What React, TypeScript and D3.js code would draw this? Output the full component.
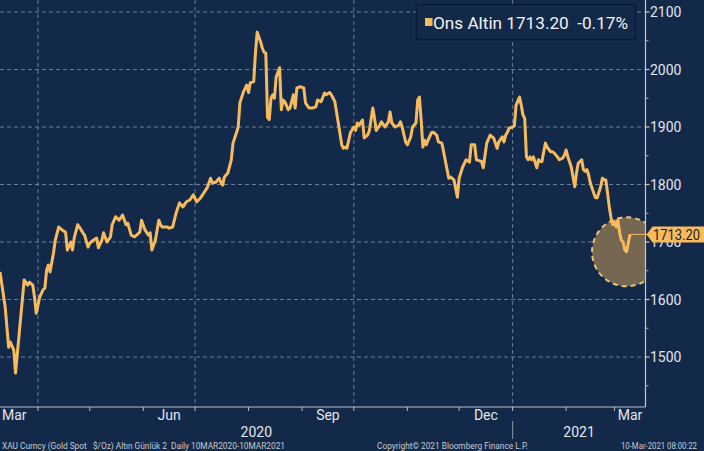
import React from "react";
import * as d3 from "d3";

// ---- data ----
const startDate = new Date(Date.UTC(2020, 2, 10));
const endDate = new Date(Date.UTC(2021, 2, 10));

// days since 10 Mar 2020
const dayOffsets = [
  0, 3, 5, 6, 8, 9, 14, 16, 17, 19, 20, 21, 23, 25, 26, 27, 28, 29, 31, 32, 34, 36, 38, 39, 41, 42, 43, 45, 46, 48,
  49, 51, 52, 54, 56, 57, 59, 60, 62, 64, 65, 67, 69, 71, 73, 74, 76, 78, 81, 82, 84, 86, 87, 88, 90, 92, 93, 94, 97, 98,
  100, 102, 104, 106, 108, 110, 112, 114, 116, 118, 120, 122, 123, 125, 127, 128, 129, 130, 132, 134, 135, 137, 138, 139, 141, 143, 144, 145, 147, 148,
  149, 151, 152, 153, 154, 155, 156, 157, 158, 159, 160, 162, 163, 164, 165, 167, 168, 170, 171, 172, 174, 176, 177, 179, 181, 183, 184, 186, 188, 189,
  191, 192, 193, 194, 196, 198, 199, 200, 201, 203, 205, 206, 207, 208, 210, 211, 213, 214, 216, 217, 218, 220, 221, 223, 225, 226, 227, 229, 231, 232,
  233, 235, 236, 238, 239, 241, 242, 243, 244, 245, 246, 247, 248, 250, 251, 253, 254, 256, 257, 259, 260, 261, 263, 265, 266, 268, 270, 272, 273, 275,
  276, 277, 279, 280, 281, 282, 284, 285, 286, 288, 289, 291, 292, 293, 294, 295, 297, 298, 299, 301, 302, 303, 304, 305, 306, 307, 308, 309, 310, 311,
  312, 313, 314, 315, 316, 317, 319, 320, 321, 323, 324, 326, 327, 328, 329, 330, 331, 332, 333, 334, 335, 336, 337, 338, 339, 340, 341, 342, 344, 345,
  346, 348, 349, 350, 351, 352, 353, 354, 355, 356, 357, 358, 359, 360, 361, 362, 363, 364, 365,
];

const prices = [
  1648, 1587, 1517, 1526, 1512, 1472, 1634, 1625, 1630, 1625, 1604, 1576, 1604, 1617, 1620, 1651, 1660, 1648, 1681, 1703, 1726, 1721, 1717, 1686, 1700, 1686, 1707, 1730, 1726, 1716,
  1712, 1691, 1698, 1703, 1707, 1690, 1703, 1716, 1700, 1709, 1730, 1744, 1738, 1747, 1730, 1733, 1712, 1709, 1717, 1738, 1721, 1712, 1716, 1686, 1703, 1738, 1730, 1726, 1726, 1724,
  1726, 1750, 1768, 1761, 1770, 1773, 1782, 1770, 1776, 1785, 1794, 1811, 1803, 1804, 1811, 1803, 1799, 1813, 1820, 1843, 1872, 1890, 1900, 1942, 1961, 1973, 1960, 1977, 1979, 2029,
  2065, 2048, 2037, 2030, 2029, 1917, 1913, 1950, 1956, 1950, 1987, 2003, 1930, 1947, 1944, 1930, 1933, 1956, 1933, 1968, 1970, 1968, 1942, 1933, 1933, 1935, 1947, 1944, 1959, 1956,
  1960, 1956, 1950, 1944, 1907, 1869, 1863, 1865, 1863, 1890, 1900, 1894, 1907, 1903, 1912, 1881, 1886, 1894, 1933, 1915, 1894, 1903, 1909, 1900, 1909, 1926, 1907, 1900, 1903, 1909,
  1900, 1874, 1869, 1883, 1900, 1907, 1947, 1952, 1912, 1865, 1877, 1869, 1877, 1890, 1891, 1886, 1874, 1872, 1857, 1826, 1811, 1813, 1808, 1778, 1811, 1830, 1843, 1839, 1869, 1869,
  1843, 1842, 1840, 1829, 1851, 1872, 1886, 1883, 1881, 1863, 1874, 1883, 1874, 1886, 1891, 1898, 1900, 1902, 1938, 1952, 1938, 1921, 1915, 1848, 1843, 1848, 1843, 1848, 1839, 1829,
  1843, 1840, 1840, 1857, 1872, 1865, 1857, 1857, 1855, 1848, 1843, 1846, 1851, 1860, 1848, 1839, 1830, 1813, 1796, 1820, 1837, 1840, 1843, 1826, 1823, 1826, 1817, 1803, 1785, 1777,
  1777, 1796, 1811, 1808, 1808, 1785, 1761, 1742, 1730, 1735, 1726, 1738, 1716, 1703, 1700, 1686, 1683, 1698, 1713.2,
];

const yTicks = [1500, 1600, 1700, 1800, 1900, 2000, 2100];
const lastPrice = 1713.2;
const changePct = -0.17;
const seriesName = "Ons Altin";
const circleCenterDay = 363;
const circleCenterValue = 1683;

const footerLeft = "XAU Curncy (Gold Spot   $/Oz) Altın Günlük 2  Daily 10MAR2020-10MAR2021";
const footerMid = "Copyright© 2021 Bloomberg Finance L.P.";
const footerRight = "10-Mar-2021 08:00:22";

// ---- layout ----
const W = 704;
const H = 451;
const plotRight = 645.5;
const plotBottom = 407;

const BG = "#13294a";
const LINE = "#f7bb5e";
const GRID = "#6a7f99";
const TEXT = "#e4e6ea";
const FONT = "Roboto, 'Noto Sans', sans-serif";

export default function App() {
  const x = d3.scaleUtc().domain([startDate, endDate]).range([0, 630]);
  const y = d3.scaleLinear().domain([1500, 2100]).range([357, 12]);
  const clampX = (v: number) => Math.max(0, Math.min(plotRight, v));

  const data = dayOffsets.map((d, i) => ({ date: d3.utcDay.offset(startDate, d), value: prices[i] }));
  const line = d3
    .line<{ date: Date; value: number }>()
    .x((d) => x(d.date))
    .y((d) => y(d.value));

  const monthStarts = d3.utcMonth.range(new Date(Date.UTC(2020, 3, 1)), new Date(Date.UTC(2021, 2, 2)));
  const quarterGrid = monthStarts.filter((m) => m.getUTCMonth() % 3 === 0);
  const labelMonths = d3
    .utcMonth.range(new Date(Date.UTC(2020, 2, 1)), new Date(Date.UTC(2021, 3, 1)))
    .filter((m) => m.getUTCMonth() % 3 === 2);
  const fmtMonth = d3.utcFormat("%b");
  const years = [2020, 2021];

  const minorTicks = d3.range(1450, 2200, 100).filter((v) => y(v) >= 0 && y(v) <= plotBottom);

  const last = data[data.length - 1];
  const lastX = x(last.date);
  const lastY = y(lastPrice);
  const cx = x(d3.utcDay.offset(startDate, circleCenterDay));
  const cy = y(circleCenterValue);

  return (
    <svg
      width={W}
      height={H}
      style={{ position: "absolute", left: 0, top: 0, fontFamily: FONT, whiteSpace: "pre" }}
    >
      <defs>
        <clipPath id="plotClip">
          <rect x={0} y={0} width={plotRight} height={plotBottom} />
        </clipPath>
      </defs>
      <rect x={0} y={0} width={W} height={H} fill={BG} />

      {/* grid */}
      {yTicks.map((v) => (
        <line key={"gy" + v} x1={0} x2={plotRight} y1={y(v)} y2={y(v)} stroke={GRID} strokeWidth={1} strokeDasharray="4,3" />
      ))}
      {quarterGrid.map((m) => (
        <line key={"gx" + m.toISOString()} x1={x(m)} x2={x(m)} y1={0} y2={plotBottom} stroke={GRID} strokeWidth={1} strokeDasharray="4,3" />
      ))}

      {/* highlight circle */}
      <g clipPath="url(#plotClip)">
        <circle cx={cx} cy={cy} r={34.5} fill="#7a6a51" fillOpacity={0.95} stroke="#f3c46e" strokeWidth={2} strokeDasharray="5,4" />
      </g>

      {/* price line */}
      <path d={line(data) || ""} fill="none" stroke={LINE} strokeWidth={3} strokeLinejoin="round" clipPath="url(#plotClip)" />
      <line x1={lastX} x2={plotRight + 3} y1={lastY} y2={lastY} stroke={LINE} strokeWidth={1} />

      {/* axes */}
      <line x1={plotRight} x2={plotRight} y1={0} y2={plotBottom} stroke="#c9c7c0" strokeWidth={1.2} />
      <line x1={0} x2={plotRight} y1={plotBottom} y2={plotBottom} stroke="#b9bec6" strokeWidth={1.2} />

      {yTicks.map((v) => (
        <g key={"yt" + v}>
          <line x1={plotRight} x2={plotRight + 4} y1={y(v)} y2={y(v)} stroke="#d9c79a" strokeWidth={1.2} />
          <text x={650} y={y(v)} dy="0.36em" fontSize={14} fill={TEXT}>
            {v}
          </text>
        </g>
      ))}
      {minorTicks.map((v) => (
        <line key={"ym" + v} x1={plotRight} x2={plotRight + 3} y1={y(v)} y2={y(v)} stroke="#aab0b8" strokeWidth={1} />
      ))}

      {monthStarts.map((m) => (
        <line key={"xt" + m.toISOString()} x1={x(m)} x2={x(m)} y1={plotBottom} y2={plotBottom + 4} stroke="#b9bec6" strokeWidth={1} />
      ))}
      {labelMonths.map((m) => {
        const x0 = clampX(x(m));
        const x1 = clampX(x(d3.utcMonth.offset(m, 1)));
        const leftClipped = x(m) < 0;
        return (
          <text
            key={"xl" + m.toISOString()}
            x={leftClipped ? 2 : (x0 + x1) / 2}
            y={420}
            fontSize={14}
            fill={TEXT}
            textAnchor={leftClipped ? "start" : "middle"}
          >
            {fmtMonth(m)}
          </text>
        );
      })}
      {years.map((yr) => {
        const x0 = clampX(x(new Date(Date.UTC(yr, 0, 1))));
        const x1 = clampX(x(new Date(Date.UTC(yr + 1, 0, 1))));
        return (
          <text key={"yr" + yr} x={(x0 + x1) / 2} y={437} fontSize={14} fill={TEXT} textAnchor="middle">
            {yr}
          </text>
        );
      })}
      {years.slice(1).map((yr) => {
        const xs = x(new Date(Date.UTC(yr, 0, 1)));
        return <line key={"ys" + yr} x1={xs} x2={xs} y1={plotBottom + 14} y2={439} stroke="#8c96a3" strokeWidth={1} />;
      })}

      {/* last price tag */}
      <path
        d={`M${plotRight + 1},${lastY} L${plotRight + 7},${lastY - 8} L${W},${lastY - 8} L${W},${lastY + 8} L${plotRight + 7},${lastY + 8} Z`}
        fill="#f7bb5e"
      />
      <text x={653} y={lastY} dy="0.36em" fontSize={15} fill="#1b1b1b" textLength={47} lengthAdjust="spacingAndGlyphs">
        {lastPrice.toFixed(2)}
      </text>

      {/* legend */}
      <rect x={416.5} y={4.5} width={219} height={35} fill={BG} stroke="#0b1c33" strokeWidth={1.5} />
      <rect x={425} y={18} width={7.5} height={8} fill={LINE} />
      <text x={433} y={29} fontSize={17} fill="#f2f2f2" textLength={195} lengthAdjust="spacingAndGlyphs" style={{ whiteSpace: "pre" }}>
        {`${seriesName} ${lastPrice.toFixed(2)}  ${changePct.toFixed(2)}%`}
      </text>

      {/* footer */}
      <text x={2} y={449} fontSize={8.5} fill="#c5c9cf" textLength={283} lengthAdjust="spacingAndGlyphs" style={{ whiteSpace: "pre" }}>
        {footerLeft}
      </text>
      <text x={377} y={449} fontSize={8.5} fill="#c5c9cf" textLength={151} lengthAdjust="spacingAndGlyphs">
        {footerMid}
      </text>
      <text x={621} y={449} fontSize={8.5} fill="#c5c9cf" textLength={76} lengthAdjust="spacingAndGlyphs">
        {footerRight}
      </text>
    </svg>
  );
}
